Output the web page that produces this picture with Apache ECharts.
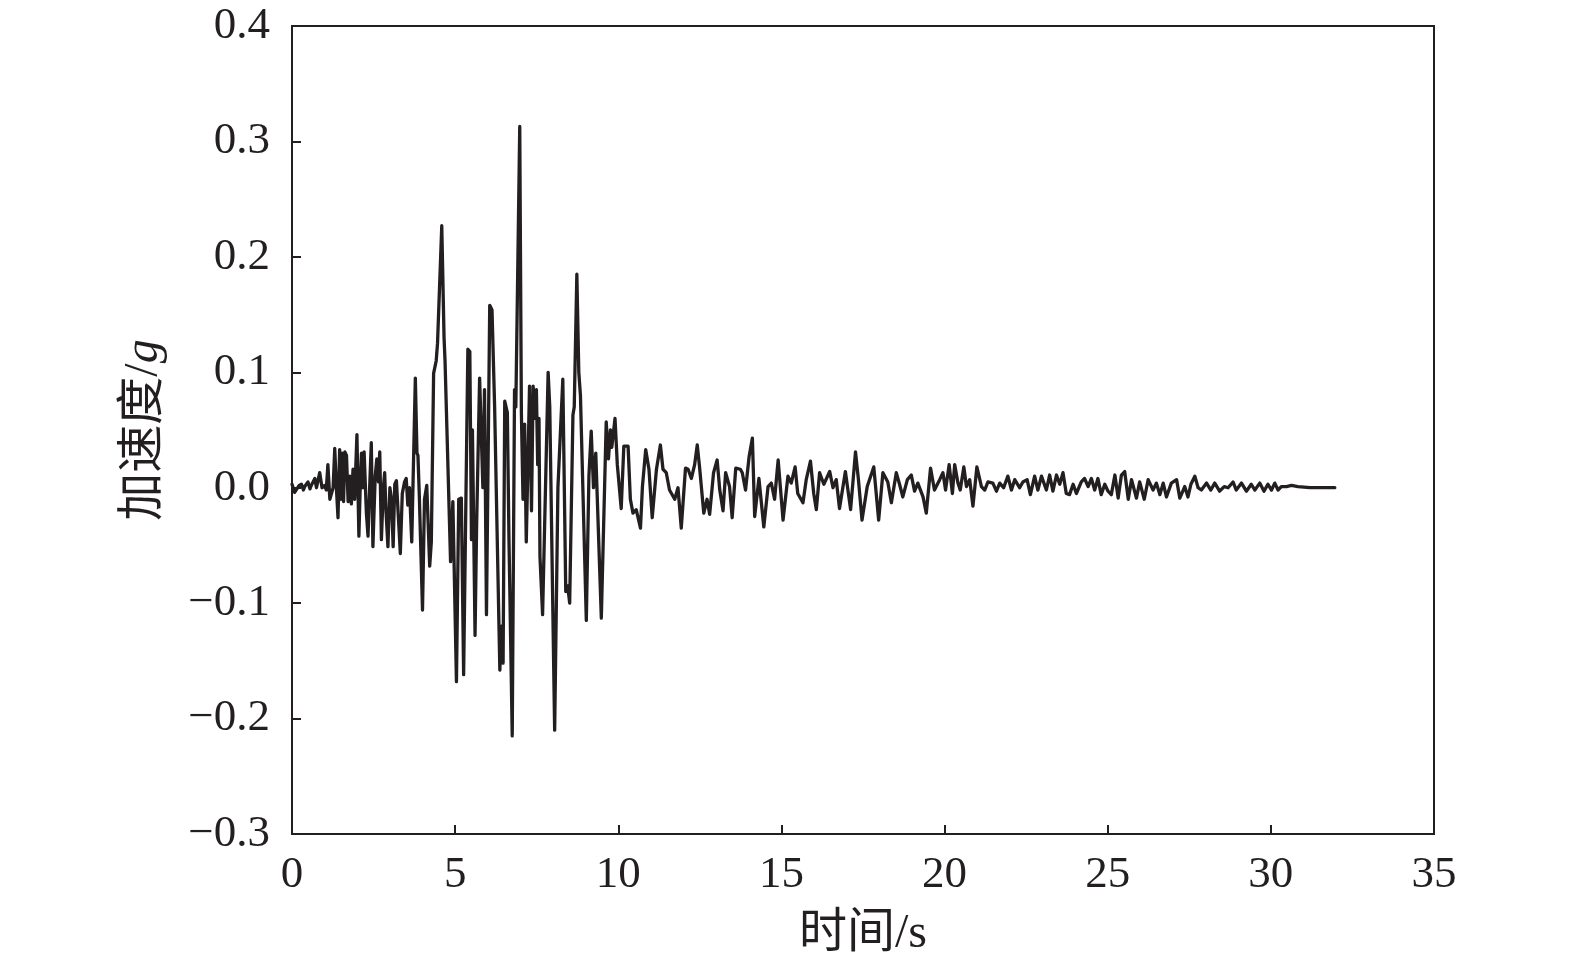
<!DOCTYPE html>
<html>
<head>
<meta charset="utf-8">
<script src="https://cdn.jsdelivr.net/npm/echarts@6/dist/echarts.min.js"></script>
<style>html,body{margin:0;padding:0;background:#fff;}#c{width:1575px;height:960px;}</style>
</head>
<body>
<div id="c"></div>
<script>
// tick values
const xTicks = [0, 5, 10, 15, 20, 25, 30, 35];
const yTicks = [-0.3, -0.2, -0.1, 0.0, 0.1, 0.2, 0.3, 0.4];
const xName = '时间/s';
const yNameMain = '加速度/';
const yNameUnit = 'g';

// acceleration record: [time (s), acceleration (g)]
const preEvent = [
  [0.0, 0.003], [0.03, 0.004], [0.08, -0.004], [0.13, -0.003], [0.22, 0.002], [0.29, 0.003], [0.35, -0.002],
  [0.39, 0.001], [0.49, 0.005], [0.55, -0.001], [0.59, 0.002], [0.7, 0.008], [0.75, 0.0], [0.8, 0.0],
  [0.85, 0.013], [0.92, 0.0], [1.0, 0.002], [1.05, -0.002], [1.1, 0.02], [1.16, -0.01], [1.26, 0.0],
  [1.31, 0.034], [1.36, 0.0], [1.41, -0.026], [1.46, 0.033], [1.5, -0.01], [1.54, 0.03], [1.58, -0.012],
  [1.62, 0.031], [1.67, 0.028], [1.72, -0.012], [1.77, 0.01], [1.82, -0.014], [1.87, 0.016], [1.92, -0.01],
  [1.99, 0.046], [2.05, -0.042], [2.1, 0.01], [2.13, 0.03], [2.17, 0.0], [2.21, 0.031], [2.28, -0.022],
  [2.33, -0.042], [2.38, 0.0], [2.43, 0.039], [2.48, -0.051], [2.55, 0.01], [2.6, 0.025], [2.65, 0.005],
  [2.69, 0.031], [2.74, -0.045], [2.8, 0.0], [2.84, 0.013], [2.88, -0.02], [2.94, -0.051], [3.0, 0.0],
  [3.05, -0.01], [3.1, -0.051], [3.15, 0.003], [3.2, 0.006], [3.25, -0.02], [3.32, -0.057], [3.38, -0.005]
];
const strongMotion = [
  [3.45, 0.005], [3.5, 0.008], [3.55, -0.015], [3.6, 0.0], [3.67, -0.047], [3.78, 0.095], [3.83, 0.03], [3.86, 0.028],
  [3.9, -0.005], [4.0, -0.106], [4.06, -0.01], [4.13, 0.002], [4.22, -0.068], [4.27, -0.047], [4.34, 0.099],
  [4.38, 0.1], [4.42, 0.11], [4.46, 0.125], [4.59, 0.227], [4.66, 0.13], [4.69, 0.11], [4.86, -0.064],
  [4.93, -0.012], [5.04, -0.168], [5.11, -0.01], [5.19, -0.009], [5.26, -0.162], [5.39, 0.12], [5.45, 0.118],
  [5.5, -0.045], [5.53, 0.05], [5.61, -0.128], [5.66, -0.03], [5.75, 0.095], [5.85, 0.0], [5.9, 0.085],
  [5.96, -0.11], [6.06, 0.158], [6.13, 0.154], [6.21, 0.07], [6.37, -0.158], [6.42, -0.12], [6.47, -0.152],
  [6.52, 0.075], [6.6, 0.065], [6.65, -0.045], [6.75, -0.215], [6.82, 0.085], [6.86, 0.07], [6.98, 0.313],
  [7.03, 0.065], [7.08, -0.01], [7.13, 0.055], [7.18, -0.047], [7.28, 0.088], [7.34, -0.02], [7.39, 0.088],
  [7.45, 0.06], [7.49, 0.085], [7.53, 0.02], [7.57, 0.06], [7.6, -0.06], [7.68, -0.11], [7.85, 0.1],
  [7.9, 0.07], [8.05, -0.21], [8.15, 0.0], [8.3, 0.094], [8.39, -0.09], [8.45, -0.085], [8.51, -0.1],
  [8.61, 0.063], [8.65, 0.07], [8.73, 0.185], [8.79, 0.1], [8.84, 0.08], [9.02, -0.115], [9.1, 0.01],
  [9.17, 0.049], [9.24, 0.0], [9.31, 0.03], [9.48, -0.113], [9.63, 0.057], [9.7, 0.025], [9.76, 0.05],
  [9.8, 0.035], [9.9, 0.06], [9.97, 0.02]
];
const coda = [
  [10.09, -0.018], [10.17, 0.036], [10.3, 0.036], [10.37, -0.01], [10.45, -0.022], [10.55, -0.019],
  [10.68, -0.035], [10.74, 0.001], [10.84, 0.033], [10.94, 0.016], [11.04, -0.026], [11.17, 0.016],
  [11.29, 0.037], [11.37, 0.016], [11.47, 0.013], [11.57, -0.002], [11.73, -0.01], [11.83, 0.0],
  [11.93, -0.035], [12.06, 0.017], [12.14, 0.016], [12.24, 0.008], [12.34, 0.02], [12.42, 0.037],
  [12.49, 0.018], [12.62, -0.022], [12.72, -0.01], [12.8, -0.023], [12.92, 0.013], [13.03, 0.024],
  [13.11, -0.002], [13.21, -0.02], [13.29, 0.013], [13.41, 0.001], [13.49, -0.026], [13.6, 0.017],
  [13.74, 0.016], [13.8, 0.013], [13.9, -0.002], [14.01, 0.027], [14.11, 0.043], [14.18, -0.025],
  [14.31, 0.008], [14.46, -0.034], [14.59, 0.001], [14.69, 0.004], [14.79, -0.01], [14.9, 0.024],
  [15.05, -0.028], [15.2, 0.01], [15.3, 0.004], [15.42, 0.018], [15.5, -0.005], [15.66, -0.013],
  [15.76, 0.007], [15.89, 0.023], [15.99, -0.005], [16.07, -0.019], [16.17, 0.013], [16.3, 0.003],
  [16.48, 0.014], [16.58, 0.0], [16.68, 0.007], [16.78, -0.018], [16.96, 0.014], [17.12, -0.019],
  [17.27, 0.031], [17.36, 0.007], [17.47, -0.028], [17.63, 0.001], [17.83, 0.018], [17.98, -0.028],
  [18.11, 0.013], [18.26, 0.005], [18.37, -0.013], [18.52, 0.013], [18.62, 0.003], [18.72, -0.008],
  [18.86, 0.007], [18.98, 0.011], [19.08, -0.003], [19.18, 0.004], [19.34, -0.008], [19.44, -0.022],
  [19.57, 0.017], [19.69, -0.002], [19.85, 0.007]
];
const tail = [
  [19.95, 0.013], [20.03, -0.002], [20.14, 0.02], [20.24, -0.005], [20.31, 0.02], [20.41, 0.004],
  [20.48, -0.002], [20.59, 0.018], [20.67, 0.001], [20.77, 0.007], [20.87, -0.016], [20.99, 0.018],
  [21.13, 0.001], [21.23, -0.002], [21.33, 0.005], [21.48, 0.004], [21.59, -0.003], [21.69, 0.004],
  [21.81, 0.0], [21.94, 0.01], [22.05, -0.002], [22.15, 0.007], [22.3, 0.0], [22.4, 0.005], [22.53, 0.007],
  [22.63, -0.006], [22.76, 0.01], [22.86, -0.002], [22.97, 0.01], [23.12, -0.002], [23.22, 0.011],
  [23.32, -0.003], [23.43, 0.011], [23.53, 0.003], [23.63, 0.013], [23.73, -0.005], [23.83, -0.006],
  [23.94, 0.003], [24.04, -0.005], [24.19, 0.005], [24.29, 0.008], [24.4, 0.001], [24.5, 0.008],
  [24.6, -0.002], [24.7, 0.008], [24.8, -0.006], [24.91, 0.003], [25.01, -0.003], [25.11, -0.006],
  [25.22, 0.011], [25.32, -0.009], [25.42, 0.011], [25.52, 0.014], [25.63, -0.01], [25.73, 0.007],
  [25.88, -0.009], [25.98, 0.005], [26.12, -0.01], [26.24, 0.007], [26.39, -0.002], [26.49, 0.004],
  [26.6, -0.006], [26.7, 0.004], [26.8, -0.008], [26.95, 0.004], [27.11, 0.007], [27.21, -0.009],
  [27.36, 0.001], [27.46, -0.008], [27.55, 0.003], [27.67, 0.01], [27.77, 0.0], [27.87, -0.002],
  [28.03, 0.004], [28.16, -0.002], [28.28, 0.004], [28.43, -0.003], [28.57, 0.001], [28.69, 0.0],
  [28.84, 0.005], [28.94, -0.002], [29.1, 0.004], [29.25, -0.003], [29.4, 0.003], [29.51, -0.002],
  [29.66, 0.004], [29.79, -0.003], [29.91, 0.003], [30.02, -0.002], [30.12, 0.004], [30.22, -0.002],
  [30.32, 0.001], [30.48, 0.001], [30.63, 0.002], [30.83, 0.001], [31.2, 0.0], [31.96, 0.0]
];

const record = preEvent.concat(strongMotion, coda, tail);
const ink = '#231f20';
const serif = '"Liberation Serif", "Times New Roman", serif';
const cjk = '"Liberation Serif", "Noto Sans CJK SC", serif';
const fmt = v => { const s = v.toFixed(1); return s.charAt(0) === '-' ? '\u2212' + s.slice(1) : s; };

const chart = echarts.init(document.getElementById('c'), null, {renderer: 'canvas'});
chart.setOption({
  backgroundColor: '#fff',
  animation: false,
  grid: {left: 292, right: 141, top: 26, bottom: 126, containLabel: false, outerBoundsMode: 'none',
         show: true, borderColor: ink, borderWidth: 2, backgroundColor: 'transparent'},
  xAxis: {
    type: 'value', min: xTicks[0], max: xTicks[xTicks.length - 1], interval: xTicks[1] - xTicks[0],
    name: xName, nameLocation: 'middle', nameGap: 76,
    nameTextStyle: {fontFamily: cjk, fontSize: 48, color: ink},
    axisLine: {show: true, onZero: false, lineStyle: {color: ink, width: 2}},
    axisTick: {show: true, inside: true, length: 9, lineStyle: {color: ink, width: 2}},
    axisLabel: {fontFamily: serif, fontSize: 45, color: ink, margin: 19},
    splitLine: {show: false}
  },
  yAxis: {
    type: 'value', min: yTicks[0], max: yTicks[yTicks.length - 1], interval: 0.1,
    name: '{a|' + yNameMain + '}{b|' + yNameUnit + '}', nameLocation: 'middle', nameGap: 124, nameRotate: 90,
    nameTextStyle: {
      rich: {
        a: {fontFamily: cjk, fontSize: 48, color: ink},
        b: {fontFamily: serif, fontStyle: 'italic', fontSize: 48, color: ink}
      }
    },
    axisLine: {show: true, onZero: false, lineStyle: {color: ink, width: 2}},
    axisTick: {show: true, inside: true, length: 9, lineStyle: {color: ink, width: 2}},
    axisLabel: {fontFamily: serif, fontSize: 45, color: ink, margin: 22, formatter: fmt},
    splitLine: {show: false}
  },
  series: [{
    type: 'line', data: record, showSymbol: false, smooth: false,
    lineStyle: {color: ink, width: 3.3, join: 'round', cap: 'round'}, z: 3
  }]
});
</script>
</body>
</html>
